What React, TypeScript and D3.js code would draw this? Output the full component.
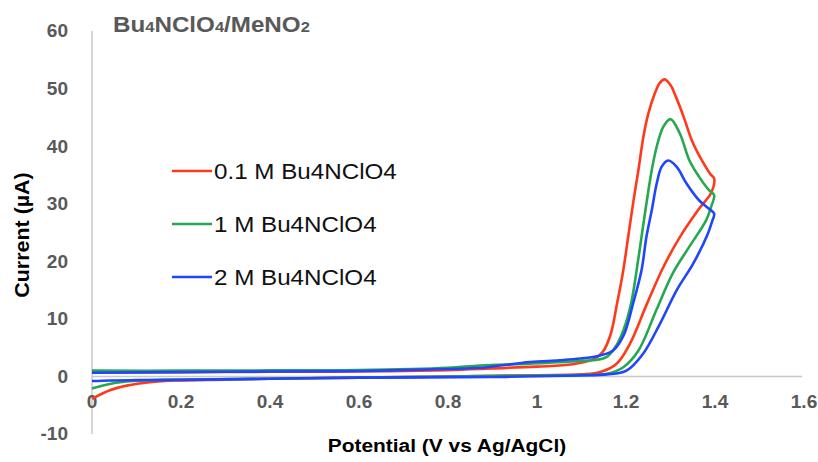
import React from 'react';
import * as d3 from 'd3';

// data: [potential (V), current (µA)]
const red01M: [number, number][] = [
  [0, 0.7], [0.2, 0.75], [0.4, 0.8], [0.6, 0.85], [0.8, 1.1], [0.9, 1.4], [1.0, 1.7], [1.08, 2.1],
  [1.127, 3.0], [1.148, 4.3], [1.165, 7.2], [1.18, 12.7], [1.194, 18.5], [1.205, 24.3], [1.216, 30.1],
  [1.228, 35.9], [1.239, 41.6], [1.25, 45.6], [1.264, 49.0], [1.276, 51.0], [1.287, 51.6], [1.3, 50.6],
  [1.312, 48.6], [1.33, 45.0], [1.348, 41.0], [1.37, 37.6], [1.39, 35.1], [1.398, 34.4], [1.392, 32.0],
  [1.362, 28.9], [1.321, 24.2], [1.284, 19.0], [1.247, 12.6], [1.209, 5.7], [1.179, 2.2], [1.142, 0.75],
  [1.1, 0.35], [1.0, 0.2], [0.8, 0.0], [0.6, -0.2], [0.4, -0.4], [0.3, -0.55], [0.19, -0.7], [0.13, -1.0],
  [0.078, -1.6], [0.04, -2.4], [0, -3.9],
];
const green1M: [number, number][] = [
  [0, 1.0], [0.2, 1.0], [0.4, 1.05], [0.6, 1.1], [0.8, 1.5], [0.872, 1.9], [0.984, 2.2], [1.097, 2.67],
  [1.126, 2.8], [1.157, 3.4], [1.177, 5.2], [1.195, 8.2], [1.212, 12.9], [1.224, 18.5], [1.235, 24.3],
  [1.246, 30.1], [1.258, 35.9], [1.269, 39.9], [1.284, 43.4], [1.3, 44.7], [1.321, 42.2], [1.342, 37.6],
  [1.364, 34.7], [1.387, 32.3], [1.398, 31.5], [1.391, 29.4], [1.38, 27.1], [1.342, 22.5], [1.305, 17.9],
  [1.268, 11.5], [1.228, 4.5], [1.194, 1.6], [1.157, 0.45], [1.1, 0.25], [1.0, 0.15], [0.8, 0.0],
  [0.6, -0.2], [0.4, -0.4], [0.16, -0.6], [0.092, -0.8], [0.04, -1.3], [0, -2.1],
];
const blue2M: [number, number][] = [
  [0, 0.65], [0.2, 0.75], [0.4, 0.85], [0.6, 0.95], [0.8, 1.3], [0.872, 1.5], [0.984, 2.5], [1.05, 2.8],
  [1.097, 3.1], [1.142, 3.65], [1.171, 4.5], [1.195, 7.2], [1.216, 12.7], [1.235, 18.5], [1.246, 24.3],
  [1.258, 28.9], [1.269, 33.5], [1.28, 36.4], [1.295, 37.5], [1.314, 36.4], [1.336, 33.5], [1.364, 30.6],
  [1.385, 29.2], [1.398, 28.3], [1.393, 26.8], [1.383, 24.6], [1.351, 19.6], [1.314, 15.0], [1.276, 9.1],
  [1.238, 3.9], [1.201, 1.0], [1.157, 0.35], [1.097, 0.17], [0.9, -0.1], [0.6, -0.2], [0.4, -0.4],
  [0.2, -0.6], [0.1, -0.65], [0.04, -0.7], [0, -0.8],
];

const seriesNames = ['0.1 M Bu4NClO4', '1 M Bu4NClO4', '2 M Bu4NClO4'];
const seriesColors = ['#ff3a1a', '#25a84f', '#1f45ff'];
const xTicks = [0, 0.2, 0.4, 0.6, 0.8, 1, 1.2, 1.4, 1.6];
const yTicks = [-10, 0, 10, 20, 30, 40, 50, 60];

const width = 818;
const height = 462;

const App = () => {
  const x = d3.scaleLinear().domain([0, 1.6]).range([92, 804]);
  const y = d3.scaleLinear().domain([-10, 60]).range([434, 31]);

  const line = d3.line<[number, number]>()
    .x(d => x(d[0]))
    .y(d => y(d[1]))
    .curve(d3.curveCatmullRom.alpha(0.5));

  const series = [red01M, green1M, blue2M];
  const tickColor = '#595959';
  const font = 'Liberation Sans, Arial, sans-serif';
  // the reference text renders a little wider than Arial at the same height
  const sx = 1.1;

  return (
    <svg width={width} height={height}
      style={{ position: 'absolute', left: 0, top: 0, background: '#fff' }}
      fontFamily={font}>
      {/* axes */}
      <line x1={x(0)} x2={x(1.6) - 2} y1={y(0)} y2={y(0)} stroke="#c8c8c8" strokeWidth={1.5} />
      <line x1={x(0)} x2={x(0)} y1={y(60)} y2={y(-10)} stroke="#c8c8c8" strokeWidth={1.5} />

      {yTicks.map(t => (
        <text key={t} transform={`translate(68, ${y(t)}) scale(1.06, 1)`} dy="0.36em" textAnchor="end"
          fontSize={18} fontWeight="bold" fill={tickColor}>{t}</text>
      ))}
      {xTicks.map(t => (
        <text key={t} transform={`translate(${x(t)}, 402) scale(1.06, 1)`} dy="0.36em" textAnchor="middle"
          fontSize={18} fontWeight="bold" fill={tickColor}>{t}</text>
      ))}

      {/* curves */}
      {series.map((s, i) => (
        <path key={i} d={line(s) ?? ''} fill="none" stroke={seriesColors[i]}
          strokeWidth={2.6} strokeLinejoin="round" />
      ))}

      {/* title */}
      <text transform={`translate(113, 32) scale(${sx}, 1)`} fontSize={22} fontWeight="bold" fill={tickColor}>
        Bu<tspan fontSize={15}>4</tspan>NClO<tspan fontSize={15}>4</tspan>/MeNO<tspan fontSize={15}>2</tspan>
      </text>

      {/* axis titles */}
      <text transform={`translate(447, 452) scale(${sx}, 1)`} textAnchor="middle" fontSize={19}
        fontWeight="bold" fill="#000">Potential (V vs Ag/AgCl)</text>
      <text transform={`translate(29, 235) rotate(-90) scale(${sx}, 1)`} textAnchor="middle"
        fontSize={19.5} fontWeight="bold" fill="#000">Current (µA)</text>

      {/* legend */}
      {seriesNames.map((name, i) => {
        const ly = 171 + i * 53;
        return (
          <g key={name}>
            <line x1={172} x2={212} y1={ly} y2={ly} stroke={seriesColors[i]} strokeWidth={2.6} />
            <text transform={`translate(214, ${ly}) scale(${sx}, 1)`} dy="0.36em" fontSize={22}
              fill="#111">{name}</text>
          </g>
        );
      })}
    </svg>
  );
};

export default App;
